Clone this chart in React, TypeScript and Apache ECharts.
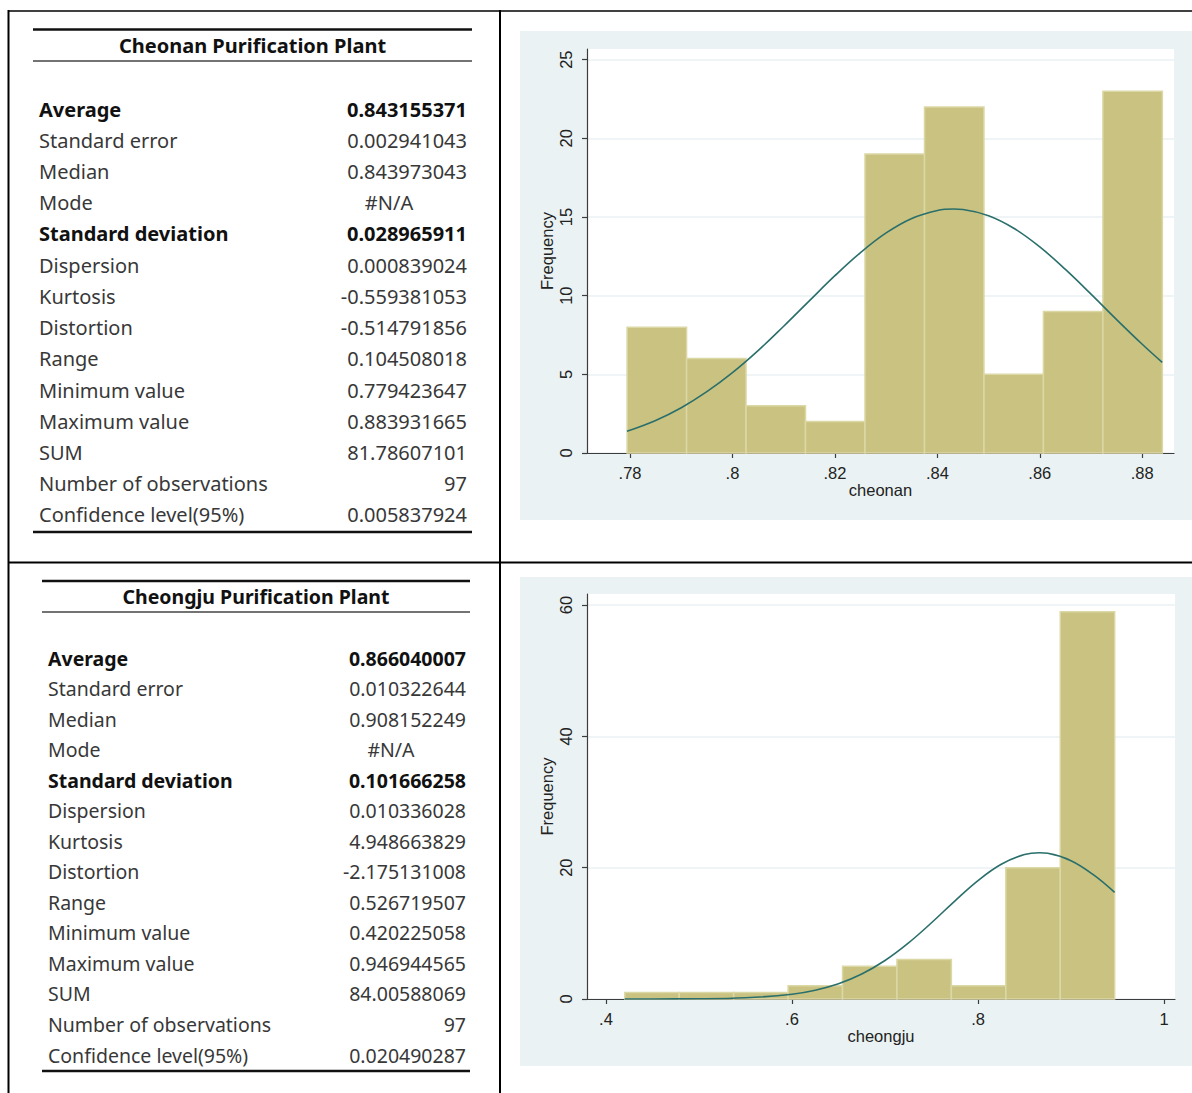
import React, { useEffect, useRef } from "react";
import * as echarts from "echarts";

// ---------- Table data ----------
const statLabels = [
  "Average",
  "Standard error",
  "Median",
  "Mode",
  "Standard deviation",
  "Dispersion",
  "Kurtosis",
  "Distortion",
  "Range",
  "Minimum value",
  "Maximum value",
  "SUM",
  "Number of observations",
  "Confidence level(95%)",
];
const boldRows = [0, 4];
const cheonanTitle = "Cheonan Purification Plant";
const cheonanStats = [
  "0.843155371", "0.002941043", "0.843973043", "#N/A", "0.028965911", "0.000839024",
  "-0.559381053", "-0.514791856", "0.104508018", "0.779423647", "0.883931665",
  "81.78607101", "97", "0.005837924",
];
const cheongjuTitle = "Cheongju Purification Plant";
const cheongjuStats = [
  "0.866040007", "0.010322644", "0.908152249", "#N/A", "0.101666258", "0.010336028",
  "4.948663829", "-2.175131008", "0.526719507", "0.420225058", "0.946944565",
  "84.00588069", "97", "0.020490287",
];

// ---------- Histogram data ----------
const cheonanEdges = [0.77942, 0.79104, 0.80265, 0.81426, 0.82587, 0.83749, 0.8491, 0.86071, 0.87232, 0.88393];
const cheonanCounts = [8, 6, 3, 2, 19, 22, 5, 9, 23];
const cheonanCurveX = [0.7794, 0.785, 0.79, 0.795, 0.8, 0.805, 0.81, 0.815, 0.82, 0.825, 0.83, 0.835, 0.84, 0.8432, 0.845, 0.85, 0.855, 0.86, 0.865, 0.87, 0.875, 0.88, 0.8839];
const cheonanCurveY = [1.38, 2.07, 2.88, 3.9, 5.11, 6.51, 8.06, 9.67, 11.27, 12.74, 13.99, 14.91, 15.42, 15.51, 15.48, 15.08, 14.27, 13.1, 11.67, 10.1, 8.48, 6.91, 5.76];
const cheonanXTicks = [0.78, 0.8, 0.82, 0.84, 0.86, 0.88];
const cheonanYTicks = [0, 5, 10, 15, 20, 25];

const cheongjuEdges = [0.42023, 0.47875, 0.53727, 0.5958, 0.65432, 0.71285, 0.77137, 0.8299, 0.88842, 0.94694];
const cheongjuCounts = [1, 1, 1, 2, 5, 6, 2, 20, 59];
const cheongjuCurveX = [0.4202, 0.45, 0.5, 0.55, 0.6, 0.625, 0.65, 0.675, 0.7, 0.725, 0.75, 0.775, 0.8, 0.825, 0.85, 0.866, 0.875, 0.9, 0.925, 0.9469];
const cheongjuCurveY = [0.0, 0.01, 0.03, 0.18, 0.73, 1.34, 2.33, 3.81, 5.87, 8.51, 11.61, 14.92, 18.04, 20.53, 22.0, 22.28, 22.19, 21.07, 18.83, 16.24];
const cheongjuXTicks = [0.4, 0.6, 0.8, 1];
const cheongjuYTicks = [0, 20, 40, 60];

const BAR_FILL = "#C9C280";
const BAR_EDGE = "#DCD8A6";
const CURVE = "#2A6F6B";
const PANEL_BG = "#EAF2F3";
const AXIS_COLOR = "#3c3c3c";
const CHART_FONT = '"Liberation Sans", Arial, sans-serif';
const CHART_SIZE = 16.5;
const TABLE_FONT = '"Noto Sans", "Open Sans", sans-serif';

function fmtTick(v: number) {
  const s = String(Math.round(v * 100) / 100);
  return s.startsWith("0.") ? s.slice(1) : s;
}

function tableGraphics(
  title: string,
  values: string[],
  o: { left: number; right: number; labelX: number; valueX: number; modeX: number; top: number; rule2: number; bottom: number; titleY: number; row0: number; step: number; size: number }
) {
  const els: any[] = [];
  els.push({ type: "line", shape: { x1: o.left, y1: o.top, x2: o.right, y2: o.top }, style: { stroke: "#111", lineWidth: 2.5 } });
  els.push({ type: "line", shape: { x1: o.left, y1: o.rule2, x2: o.right, y2: o.rule2 }, style: { stroke: "#444", lineWidth: 1.6 } });
  els.push({ type: "line", shape: { x1: o.left, y1: o.bottom, x2: o.right, y2: o.bottom }, style: { stroke: "#111", lineWidth: 2.5 } });
  els.push({
    type: "text",
    x: (o.left + o.right) / 2,
    y: o.titleY,
    style: { text: title, fill: "#111", font: `bold ${o.size}px ${TABLE_FONT}`, textAlign: "center", align: "center", textVerticalAlign: "middle", verticalAlign: "middle" },
  });
  statLabels.forEach((lab, i) => {
    const bold = boldRows.includes(i);
    const y = o.row0 + i * o.step;
    els.push({
      type: "text",
      x: o.labelX,
      y,
      style: { text: lab, fill: bold ? "#111" : "#383838", font: `${bold ? "bold " : ""}${o.size}px ${TABLE_FONT}`, textAlign: "left", align: "left", textVerticalAlign: "middle", verticalAlign: "middle" },
    });
    const v = values[i];
    const isMode = v === "#N/A";
    els.push({
      type: "text",
      x: isMode ? o.modeX : o.valueX,
      y,
      style: { text: v, fill: bold ? "#111" : "#383838", font: `${bold ? "bold " : ""}${o.size}px ${TABLE_FONT}`, textAlign: isMode ? "center" : "right", align: isMode ? "center" : "right", textVerticalAlign: "middle", verticalAlign: "middle" },
    });
  });
  return els;
}

function histSeries(edges: number[], counts: number[], idx: number) {
  const data = counts.map((c, i) => [edges[i], edges[i + 1], c]);
  return {
    type: "custom",
    xAxisIndex: idx,
    yAxisIndex: idx,
    data,
    encode: { x: [0, 1], y: 2 },
    renderItem: (_p: any, api: any) => {
      const p0 = api.coord([api.value(0), api.value(2)]);
      const p1 = api.coord([api.value(1), 0]);
      return {
        type: "rect",
        shape: { x: p0[0], y: p0[1], width: p1[0] - p0[0], height: p1[1] - p0[1] },
        style: { fill: BAR_FILL, stroke: BAR_EDGE, lineWidth: 1.5 },
      };
    },
    z: 2,
  };
}

function curveSeries(xs: number[], ys: number[], idx: number) {
  return {
    type: "line",
    xAxisIndex: idx,
    yAxisIndex: idx,
    data: xs.map((x, i) => [x, ys[i]]),
    smooth: 0.4,
    showSymbol: false,
    symbol: "none",
    lineStyle: { color: CURVE, width: 1.6 },
    z: 3,
  };
}

function xAxisCfg(idx: number, min: number, max: number, ticks: number[], name: string) {
  return {
    type: "value",
    gridIndex: idx,
    min,
    max,
    name,
    nameLocation: "middle",
    nameGap: 28,
    nameTextStyle: { fontFamily: CHART_FONT, fontSize: CHART_SIZE, color: "#222" },
    axisLine: { show: true, onZero: false, lineStyle: { color: AXIS_COLOR, width: 1.2 } },
    axisTick: { show: true, length: 5, customValues: ticks, lineStyle: { color: AXIS_COLOR, width: 1.2 } },
    axisLabel: { customValues: ticks, margin: 11, fontFamily: CHART_FONT, fontSize: CHART_SIZE, color: "#222", formatter: (v: number) => fmtTick(v) },
    splitLine: { show: false },
  };
}

function yAxisCfg(idx: number, max: number, ticks: number[]) {
  return {
    type: "value",
    gridIndex: idx,
    min: 0,
    max,
    name: "Frequency",
    nameLocation: "middle",
    nameGap: 32,
    nameRotate: 90,
    nameTextStyle: { fontFamily: CHART_FONT, fontSize: CHART_SIZE, color: "#222" },
    axisLine: { show: true, lineStyle: { color: AXIS_COLOR, width: 1.2 } },
    axisTick: { show: true, length: 5, customValues: ticks, lineStyle: { color: AXIS_COLOR, width: 1.2 } },
    axisLabel: { customValues: ticks, rotate: 90, margin: 13, fontFamily: CHART_FONT, fontSize: CHART_SIZE, color: "#222", formatter: (v: number) => String(v) },
    splitLine: { show: true, lineStyle: { color: PANEL_BG, width: 1.5 } },
  };
}

export default function App() {
  const ref = useRef<HTMLDivElement>(null);
  useEffect(() => {
    document.body.style.margin = "0";
    if (!ref.current) return;
    const chart = echarts.init(ref.current, undefined, { renderer: "svg" });

    const frame: any[] = [
      { type: "rect", z: -100, shape: { x: 520, y: 31, width: 672, height: 489 }, style: { fill: PANEL_BG } },
      { type: "rect", z: -100, shape: { x: 520, y: 577, width: 672, height: 489 }, style: { fill: PANEL_BG } },
      { type: "line", shape: { x1: 8, y1: 11, x2: 1192, y2: 11 }, style: { stroke: "#000", lineWidth: 1.6 } },
      { type: "line", shape: { x1: 8.5, y1: 10, x2: 8.5, y2: 1093 }, style: { stroke: "#000", lineWidth: 2 } },
      { type: "line", shape: { x1: 500, y1: 10, x2: 500, y2: 1093 }, style: { stroke: "#000", lineWidth: 2 } },
      { type: "line", shape: { x1: 8, y1: 562.5, x2: 1192, y2: 562.5 }, style: { stroke: "#000", lineWidth: 2 } },
    ];

    const t1 = tableGraphics(cheonanTitle, cheonanStats, {
      left: 33, right: 472, labelX: 39, valueX: 467, modeX: 389, top: 29.5, rule2: 61, bottom: 532,
      titleY: 45, row0: 109, step: 31.23, size: 20,
    });
    const t2 = tableGraphics(cheongjuTitle, cheongjuStats, {
      left: 42, right: 470, labelX: 48, valueX: 466, modeX: 391, top: 581, rule2: 612, bottom: 1071,
      titleY: 596, row0: 658, step: 30.54, size: 19.5,
    });

    chart.setOption({
      animation: false,
      backgroundColor: "#ffffff",
      grid: [
        { left: 587, top: 49, width: 587, height: 404, show: true, backgroundColor: "#ffffff", borderWidth: 0, containLabel: false },
        { left: 587, top: 594, width: 588, height: 405, show: true, backgroundColor: "#ffffff", borderWidth: 0, containLabel: false },
      ],
      xAxis: [
        xAxisCfg(0, 0.7716, 0.8862, cheonanXTicks, "cheonan"),
        xAxisCfg(1, 0.3796, 1.0118, cheongjuXTicks, "cheongju"),
      ],
      yAxis: [yAxisCfg(0, 25.68, cheonanYTicks), yAxisCfg(1, 61.69, cheongjuYTicks)],
      series: [
        histSeries(cheonanEdges, cheonanCounts, 0),
        curveSeries(cheonanCurveX, cheonanCurveY, 0),
        histSeries(cheongjuEdges, cheongjuCounts, 1),
        curveSeries(cheongjuCurveX, cheongjuCurveY, 1),
      ],
      graphic: [...frame, ...t1, ...t2],
    });
    return () => chart.dispose();
  }, []);
  return <div ref={ref} style={{ width: 1192, height: 1093 }} />;
}
